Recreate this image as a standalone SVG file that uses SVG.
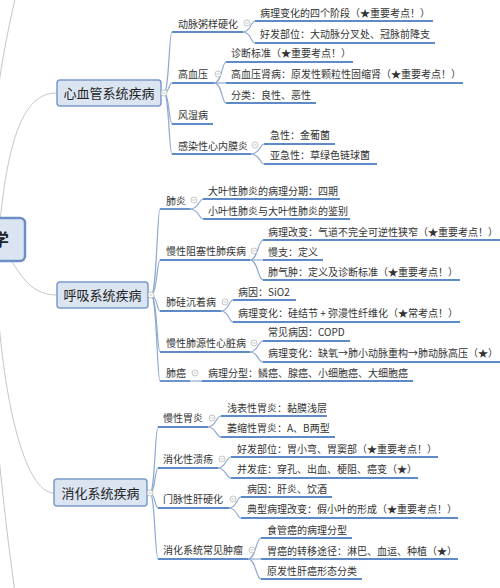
<svg xmlns="http://www.w3.org/2000/svg" width="500" height="588" viewBox="0 0 500 588">
<style>
text { font-family: 'Noto Sans CJK SC','Liberation Sans',sans-serif; font-size:10px; fill:#333; }
.t1 { font-size:13px; fill:#222; }
.t0 { font-size:17px; fill:#222; font-weight:bold; }
.ul { stroke:#5f8ac8; stroke-width:1.8; fill:none; }
.cn { stroke:#8fa9d0; stroke-width:1.2; fill:none; }
.rc { stroke:#c6c6c6; stroke-width:1; fill:none; }
.box { fill:#dbe5f2; stroke:#7b9bc9; stroke-width:1.5; }
.root { fill:#dbe5f2; stroke:#6a8ec5; stroke-width:2.5; }
</style>
<defs>
<g id="tog"><circle cx="0" cy="0" r="3" fill="#ffffff" stroke="#b8b8b8" stroke-width="0.8"/><line x1="-1.6" y1="0" x2="1.6" y2="0" stroke="#b8b8b8" stroke-width="0.8"/></g>
</defs>
<rect x="0" y="0" width="500" height="588" fill="#ffffff"/>

<g id="connectors">
<path class="rc" d="M -5,222 C -12,150 -4,80 16,-5"/>
<path class="rc" d="M 0,222 C 10,120 30,93 57,93"/>
<path class="rc" d="M 10,258 C 25,285 38,295 57,295"/>
<path class="rc" d="M -5,258 C 0,400 25,493 54,493"/>
<path class="rc" d="M -15,262 C -8,400 2,500 16,600"/>

<path class="cn" d="M 164,93 C 169,93 169,32 172,32"/>
<path class="cn" d="M 164,93 C 169,93 169,83 172,83"/>
<path class="cn" d="M 164,93 C 169,93 169,124 172,124"/>
<path class="cn" d="M 164,93 C 169,93 169,154 172,154"/>

<path class="cn" d="M 243,32 C 251,32 251,21 255,21"/>
<path class="cn" d="M 243,32 C 251,32 251,43 255,43"/>
<path class="cn" d="M 214,83 C 222,83 222,62 226,62"/>
<path class="cn" d="M 214,83 L 226,83"/>
<path class="cn" d="M 214,83 C 222,83 222,103 226,103"/>
<path class="cn" d="M 251,154 C 260,154 260,144 264,144"/>
<path class="cn" d="M 251,154 C 260,154 260,164 264,164"/>

<path class="cn" d="M 151,295 C 157,295 157,209 160,209"/>
<path class="cn" d="M 151,295 C 157,295 157,260 160,260"/>
<path class="cn" d="M 151,295 C 157,295 157,311 160,311"/>
<path class="cn" d="M 151,295 C 157,295 157,352 160,352"/>
<path class="cn" d="M 151,295 C 157,295 157,381 160,381"/>

<path class="cn" d="M 190,209 C 199,209 199,199 203,199"/>
<path class="cn" d="M 190,209 C 199,209 199,219 203,219"/>
<path class="cn" d="M 250,260 C 258,260 258,240 263,240"/>
<path class="cn" d="M 250,260 L 263,260"/>
<path class="cn" d="M 250,260 C 258,260 258,280 263,280"/>
<path class="cn" d="M 221,311 C 229,311 229,300 233,300"/>
<path class="cn" d="M 221,311 C 229,311 229,322 233,322"/>
<path class="cn" d="M 250,352 C 258,352 258,341 263,341"/>
<path class="cn" d="M 250,352 C 258,352 258,362 263,362"/>
<path class="cn" d="M 190,381 L 202,381"/>

<path class="cn" d="M 150,493 C 155,493 155,427 158,427"/>
<path class="cn" d="M 150,493 C 155,493 155,468 158,468"/>
<path class="cn" d="M 150,493 C 155,493 155,508 158,508"/>
<path class="cn" d="M 150,493 C 155,493 155,559 158,559"/>

<path class="cn" d="M 208,427 C 216,427 216,416 221,416"/>
<path class="cn" d="M 208,427 C 216,427 216,437 221,437"/>
<path class="cn" d="M 218,468 C 226,468 226,457 231,457"/>
<path class="cn" d="M 218,468 C 226,468 226,478 231,478"/>
<path class="cn" d="M 229,508 C 237,508 237,497 241,497"/>
<path class="cn" d="M 229,508 C 237,508 237,518 241,518"/>
<path class="cn" d="M 248,559 C 256,559 256,538 261,538"/>
<path class="cn" d="M 248,559 L 261,559"/>
<path class="cn" d="M 248,559 C 256,559 256,579 261,579"/>
</g>

<g id="n-root"><rect class="root" x="-40" y="218" width="65" height="43" rx="5"/><text class="t0" x="9" y="246" text-anchor="end">学</text></g>

<g id="n-cardio"><rect class="box" x="57" y="80" width="104" height="26" rx="3"/><text class="t1" x="109" y="98" text-anchor="middle">心血管系统疾病</text><use href="#tog" x="164" y="93"/></g>
<g id="n-resp"><rect class="box" x="57" y="282" width="91" height="26" rx="3"/><text class="t1" x="102.5" y="300" text-anchor="middle">呼吸系统疾病</text><use href="#tog" x="151" y="295"/></g>
<g id="n-dig"><rect class="box" x="54" y="479" width="93" height="27" rx="3"/><text class="t1" x="100.5" y="498" text-anchor="middle">消化系统疾病</text><use href="#tog" x="150" y="493"/></g>

<g id="n-a1"><text x="178" y="28">动脉粥样硬化</text><line class="ul" x1="172" y1="32" x2="243" y2="32"/><use href="#tog" x="247" y="23"/></g>
<g id="n-a1-1"><text x="260" y="17">病理变化的四个阶段（★重要考点！）</text><line class="ul" x1="255" y1="21" x2="433" y2="21"/></g>
<g id="n-a1-2"><text x="260" y="38">好发部位：大动脉分叉处、冠脉前降支</text><line class="ul" x1="255" y1="43" x2="435" y2="43"/></g>
<g id="n-a2"><text x="178" y="78">高血压</text><line class="ul" x1="172" y1="83" x2="214" y2="83"/><use href="#tog" x="218" y="74"/></g>
<g id="n-a2-1"><text x="231" y="57">诊断标准（★重要考点！）</text><line class="ul" x1="226" y1="62" x2="353" y2="62"/></g>
<g id="n-a2-2"><text x="231" y="78">高血压肾病：原发性颗粒性固缩肾（★重要考点！）</text><line class="ul" x1="226" y1="83" x2="463" y2="83"/></g>
<g id="n-a2-3"><text x="231" y="99">分类：良性、恶性</text><line class="ul" x1="226" y1="103" x2="316" y2="103"/></g>
<g id="n-a3"><text x="178" y="119">风湿病</text><line class="ul" x1="172" y1="124" x2="213" y2="124"/></g>
<g id="n-a4"><text x="178" y="150">感染性心内膜炎</text><line class="ul" x1="172" y1="154" x2="251" y2="154"/><use href="#tog" x="255" y="145"/></g>
<g id="n-a4-1"><text x="270" y="139">急性：金葡菌</text><line class="ul" x1="264" y1="144" x2="335" y2="144"/></g>
<g id="n-a4-2"><text x="270" y="159">亚急性：草绿色链球菌</text><line class="ul" x1="264" y1="164" x2="377" y2="164"/></g>

<g id="n-b1"><text x="166" y="205">肺炎</text><line class="ul" x1="160" y1="209" x2="190" y2="209"/><use href="#tog" x="194" y="200"/></g>
<g id="n-b1-1"><text x="208" y="195">大叶性肺炎的病理分期：四期</text><line class="ul" x1="203" y1="199" x2="340" y2="199"/></g>
<g id="n-b1-2"><text x="208" y="215">小叶性肺炎与大叶性肺炎的鉴别</text><line class="ul" x1="203" y1="219" x2="350" y2="219"/></g>
<g id="n-b2"><text x="166" y="255">慢性阻塞性肺疾病</text><line class="ul" x1="160" y1="260" x2="250" y2="260"/><use href="#tog" x="254" y="251"/></g>
<g id="n-b2-1"><text x="268" y="236">病理改变：气道不完全可逆性狭窄（★重要考点！）</text><line class="ul" x1="263" y1="240" x2="500" y2="240"/></g>
<g id="n-b2-2"><text x="268" y="256">慢支：定义</text><line class="ul" x1="263" y1="260" x2="323" y2="260"/></g>
<g id="n-b2-3"><text x="268" y="276">肺气肿：定义及诊断标准（★重要考点！）</text><line class="ul" x1="263" y1="280" x2="460" y2="280"/></g>
<g id="n-b3"><text x="166" y="306">肺硅沉着病</text><line class="ul" x1="160" y1="311" x2="221" y2="311"/><use href="#tog" x="225" y="302"/></g>
<g id="n-b3-1"><text x="238" y="296">病因：SiO2</text><line class="ul" x1="233" y1="300" x2="296" y2="300"/></g>
<g id="n-b3-2"><text x="238" y="317">病理变化：硅结节 + 弥漫性纤维化（★常考点！）</text><line class="ul" x1="233" y1="322" x2="460" y2="322"/></g>
<g id="n-b4"><text x="166" y="347">慢性肺源性心脏病</text><line class="ul" x1="160" y1="352" x2="250" y2="352"/><use href="#tog" x="254" y="343"/></g>
<g id="n-b4-1"><text x="268" y="336">常见病因：COPD</text><line class="ul" x1="263" y1="341" x2="350" y2="341"/></g>
<g id="n-b4-2"><text x="268" y="357">病理变化：缺氧→肺小动脉重构→肺动脉高压（★）</text><line class="ul" x1="263" y1="362" x2="500" y2="362"/></g>
<g id="n-b5"><text x="166" y="377">肺癌</text><line class="ul" x1="160" y1="381" x2="190" y2="381"/><use href="#tog" x="195" y="373"/></g>
<g id="n-b5-1"><text x="208" y="377">病理分型：鳞癌、腺癌、小细胞癌、大细胞癌</text><line class="ul" x1="202" y1="381" x2="413" y2="381"/></g>

<g id="n-c1"><text x="163" y="422">慢性胃炎</text><line class="ul" x1="158" y1="427" x2="208" y2="427"/><use href="#tog" x="212" y="418"/></g>
<g id="n-c1-1"><text x="227" y="412">浅表性胃炎：黏膜浅层</text><line class="ul" x1="221" y1="416" x2="327" y2="416"/></g>
<g id="n-c1-2"><text x="227" y="432">萎缩性胃炎：A、B两型</text><line class="ul" x1="221" y1="437" x2="335" y2="437"/></g>
<g id="n-c2"><text x="163" y="463">消化性溃疡</text><line class="ul" x1="158" y1="468" x2="218" y2="468"/><use href="#tog" x="222" y="459"/></g>
<g id="n-c2-1"><text x="237" y="453">好发部位：胃小弯、胃窦部（★重要考点！）</text><line class="ul" x1="231" y1="457" x2="438" y2="457"/></g>
<g id="n-c2-2"><text x="237" y="473">并发症：穿孔、出血、梗阻、癌变（★）</text><line class="ul" x1="231" y1="478" x2="418" y2="478"/></g>
<g id="n-c3"><text x="163" y="503">门脉性肝硬化</text><line class="ul" x1="158" y1="508" x2="229" y2="508"/><use href="#tog" x="233" y="499"/></g>
<g id="n-c3-1"><text x="247" y="493">病因：肝炎、饮酒</text><line class="ul" x1="241" y1="497" x2="332" y2="497"/></g>
<g id="n-c3-2"><text x="247" y="513">典型病理改变：假小叶的形成（★重要考点！）</text><line class="ul" x1="241" y1="518" x2="458" y2="518"/></g>
<g id="n-c4"><text x="163" y="554">消化系统常见肿瘤</text><line class="ul" x1="158" y1="559" x2="248" y2="559"/><use href="#tog" x="252" y="550"/></g>
<g id="n-c4-1"><text x="267" y="534">食管癌的病理分型</text><line class="ul" x1="261" y1="538" x2="352" y2="538"/></g>
<g id="n-c4-2"><text x="267" y="555">胃癌的转移途径：淋巴、血运、种植（★）</text><line class="ul" x1="261" y1="559" x2="458" y2="559"/></g>
<g id="n-c4-3"><text x="267" y="575">原发性肝癌形态分类</text><line class="ul" x1="261" y1="579" x2="362" y2="579"/></g>
</svg>
